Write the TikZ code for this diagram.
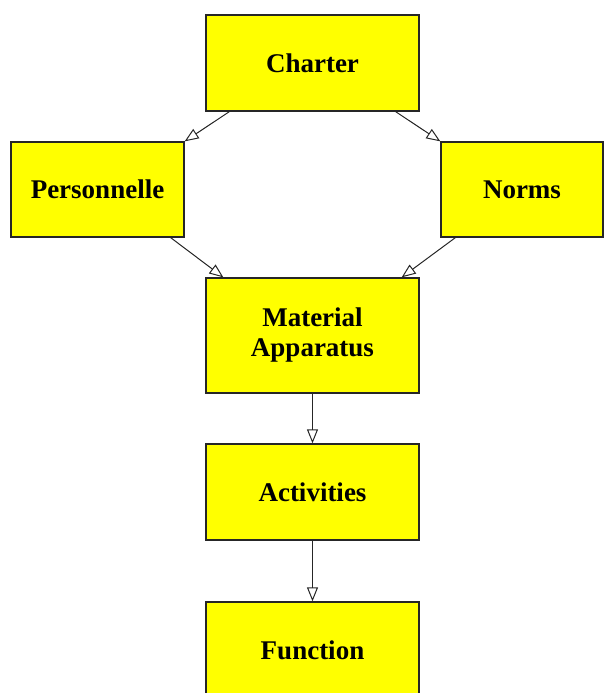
\documentclass[tikz,border=0pt]{standalone}
\usepackage{fontspec}
\setmainfont{Liberation Serif}
\usetikzlibrary{arrows.meta}
\definecolor{boxyellow}{RGB}{255,255,0}
\tikzset{
  box/.style={draw=black!85, line width=1.3pt, fill=boxyellow, inner sep=0pt,
    align=center, font=\bfseries\fontsize{27}{30}\selectfont},
  link/.style={draw=black!85, line width=1pt, -{Triangle[open, length=14pt, width=11pt]}}
}
\begin{document}
\begin{tikzpicture}[x=1pt, y=-1pt]
\useasboundingbox (0,0) rectangle (604,693);
\clip (0,0) rectangle (604,693);
\node[box, minimum width=213pt, minimum height=96pt] (charter) at (312.5,63) {Charter};
\node[box, minimum width=173pt, minimum height=95pt] (person) at (97.5,189.5) {Personnelle};
\node[box, minimum width=162pt, minimum height=95pt] (norms) at (522,189.5) {Norms};
\node[box, minimum width=213pt, minimum height=115pt] (material) at (312.5,335.5) {Material\\Apparatus};
\node[box, minimum width=213pt, minimum height=96pt] (act) at (312.5,492) {Activities};
\node[box, minimum width=213pt, minimum height=96pt] (func) at (312.5,650) {Function};
\draw[link] ([xshift=24pt]charter.south west) -- (person.north east);
\draw[link] ([xshift=-24pt]charter.south east) -- (norms.north west);
\draw[link] ([xshift=-14pt]person.south east) -- ([xshift=18pt]material.north west);
\draw[link] ([xshift=15pt]norms.south west) -- ([xshift=-18pt]material.north east);
\draw[link] (material.south) -- (act.north);
\draw[link] (act.south) -- (func.north);
\end{tikzpicture}
\end{document}
